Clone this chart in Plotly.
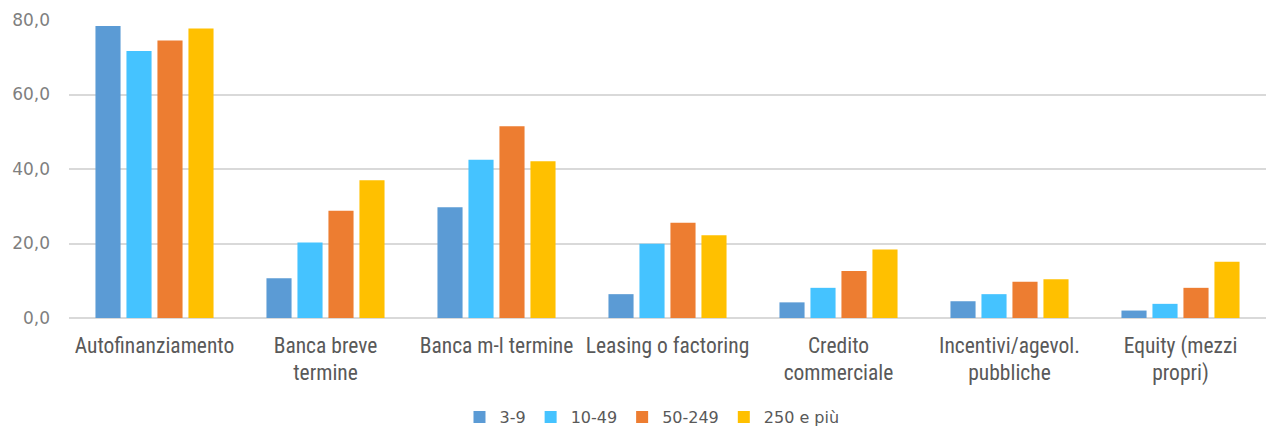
import plotly.graph_objects as go

categories = [
    "Autofinanziamento",
    "Banca breve<br>termine",
    "Banca m-l termine",
    "Leasing o factoring",
    "Credito<br>commerciale",
    "Incentivi/agevol.<br>pubbliche",
    "Equity (mezzi<br>propri)",
]

series_names = ["3-9", "10-49", "50-249", "250 e più"]
v_3_9 = [78.4, 10.7, 29.7, 6.4, 4.2, 4.5, 2.0]
v_10_49 = [71.7, 20.3, 42.5, 19.9, 8.1, 6.4, 3.8]
v_50_249 = [74.5, 28.8, 51.5, 25.6, 12.6, 9.7, 8.1]
v_250_piu = [77.7, 37.0, 42.1, 22.2, 18.4, 10.4, 15.1]

colors = ["#5B9BD5", "#45C3FF", "#ED7D31", "#FFC000"]

fig = go.Figure()
for name, vals, col in zip(series_names, [v_3_9, v_10_49, v_50_249, v_250_piu], colors):
    fig.add_trace(go.Bar(x=categories, y=vals, name=name, marker_color=col,
                         marker_line_width=0))

fig.update_layout(
    width=1266, height=430,
    margin=dict(l=69, r=0, t=20, b=112),
    paper_bgcolor="white", plot_bgcolor="white",
    barmode="group", bargap=0.275, bargroupgap=0.19,
    separators=",.",
    font=dict(family="Liberation Sans Narrow, Roboto Condensed, DejaVu Sans Condensed, sans-serif",
              color="#595959", size=21),
    legend=dict(orientation="h", xref="container", x=0.515, xanchor="center",
                yref="container", y=0.03, yanchor="middle",
                font=dict(family="DejaVu Sans, sans-serif", size=16, color="#595959"),
                itemwidth=30, tracegroupgap=0),
    yaxis=dict(range=[0, 80], tickvals=[0, 20, 40, 60, 80], tickformat=".1f",
               showgrid=True, gridcolor="#d9d9d9", gridwidth=1.5,
               zeroline=True, zerolinecolor="#d9d9d9", zerolinewidth=1.5,
               tickfont=dict(family="DejaVu Sans, sans-serif", size=17, color="#7f7f7f"),
               ticks="", ticklabelstandoff=18, showline=False),
    xaxis=dict(showline=False, ticks="", tickangle=0, ticklabelstandoff=12,
               tickfont=dict(size=21.5, color="#595959")),
)

fig.write_html("out.html")
